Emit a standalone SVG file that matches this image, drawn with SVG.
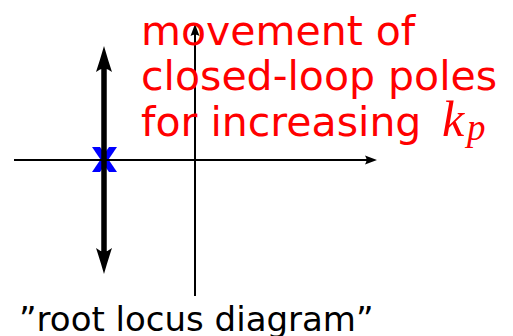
<svg xmlns="http://www.w3.org/2000/svg" width="513" height="336" viewBox="0 0 513 336">
<style>
.axis{stroke:#000;stroke-width:2;fill:none}
.locus{stroke:#000;stroke-width:5.5;fill:none}
.head{fill:#000}
.lbl{font-family:"DejaVu Sans",sans-serif;font-size:41px;fill:#ff0000}
.cap{font-family:"DejaVu Sans",sans-serif;font-size:34px;fill:#000}
.math{font-family:"Liberation Serif",serif;font-style:italic;fill:#ff0000}
</style>
<defs>
<path id="small" d="M0,0 L-12,-4.5 Q-9,0 -12,4.5 Z"/>
<path id="big" d="M0,0 Q-14,-4 -26,-8 Q-19,0 -26,8 Q-14,4 0,0 Z"/>
</defs>
<g id="pole">
<polygon points="92,147 100,147 117,172 109,172" fill="#0000ff"/>
<polygon points="109,147 117,147 100,172 92,172" fill="#0000ff"/>
</g>
<g id="connectors">
<line class="axis" x1="14" y1="160" x2="370" y2="160"/>
<use href="#small" class="head" transform="translate(377,160)"/>
<line class="axis" x1="195" y1="296" x2="195" y2="32"/>
<use href="#small" class="head" transform="translate(195,24) rotate(-90)"/>
<line class="locus" x1="104" y1="66" x2="104" y2="255"/>
<use href="#big" class="head" transform="translate(104,46) rotate(-90)"/>
<use href="#big" class="head" transform="translate(104,274) rotate(90)"/>
</g>
<g id="label">
<text class="lbl" x="141" y="45">movement of</text>
<text class="lbl" x="141" y="90">closed-loop poles</text>
<text class="lbl" x="141" y="136">for increasing <tspan class="math" x="442" font-size="50">k</tspan><tspan class="math" font-size="37" x="467" dy="4">p</tspan></text>
</g>
<g id="caption">
<text class="cap" x="19" y="331">”root locus diagram”</text>
</g>
</svg>
